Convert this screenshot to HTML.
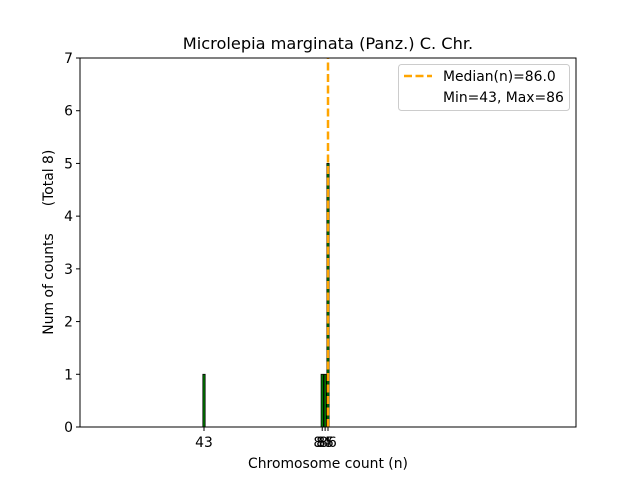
<!DOCTYPE html>
<html><head><meta charset="utf-8"><style>
body{margin:0;background:#fff;}
text{font-family:"DejaVu Sans","Liberation Sans",sans-serif;}
</style></head><body>
<svg id="chart" width="640" height="480" xmlns="http://www.w3.org/2000/svg">
<rect width="640" height="480" fill="#fff"/>
<text x="328" y="49" font-size="16.2" text-anchor="middle">Microlepia marginata (Panz.) C. Chr.</text>
<g id="bars"></g>
<g id="axes"></g>
<g>
<rect x="398.5" y="64.5" width="171" height="46" rx="3" fill="#fff" stroke="#ccc"/>
<line x1="404" y1="76" x2="432" y2="76" stroke="orange" stroke-width="2.5" stroke-dasharray="8,3.5"/>
<text x="443" y="81" font-size="13.9">Median(n)=86.0</text>
<text x="443" y="102" font-size="13.9">Min=43, Max=86</text>
</g>
<text x="328" y="468" font-size="13.9" text-anchor="middle">Chromosome count (n)</text>
<text transform="translate(53,284) rotate(-90)" font-size="13.9" text-anchor="middle">Num of counts</text>
<text transform="translate(53,178) rotate(-90)" font-size="13.9" text-anchor="middle">(Total 8)</text>
</svg>
<script>
const categories=[43,84,85,86];
const counts=[1,1,1,5];
const medianValue=86;
const yTicks=[0,1,2,3,4,5,6,7];
const xTicks=[43,84,85,86];
const NS="http://www.w3.org/2000/svg";
const L=80,R=576,T=58,B=427;
const xMin=0,xMax=172,yMax=7;
function xs(v){return L+(v-xMin)/(xMax-xMin)*(R-L);}
function ys(v){return B-v/yMax*(B-T);}
function mk(tag,attrs,parent){const e=document.createElementNS(NS,tag);for(const k in attrs)e.setAttribute(k,attrs[k]);parent.appendChild(e);return e;}
const bars=document.getElementById('bars');
const axes=document.getElementById('axes');
categories.forEach((c,i)=>{
  const w=0.8*(R-L)/(xMax-xMin);
  const r=mk('rect',{x:xs(c)-w/2,y:ys(counts[i]),width:w,height:B-ys(counts[i]),fill:'green',stroke:'#000','stroke-width':0.8},bars);
  
  
});
const med=mk('line',{x1:xs(medianValue),x2:xs(medianValue),y1:B,y2:T,stroke:'orange','stroke-width':2.5,'stroke-dasharray':'8,3.5'},bars);


const frame=mk('rect',{x:L,y:T,width:R-L,height:B-T,fill:'none',stroke:'#000','stroke-width':1},axes);


yTicks.forEach(t=>{
  const y=ys(t);
  mk('line',{x1:L-4,x2:L,y1:y,y2:y,stroke:'#000'},axes);
  const tx=mk('text',{x:L-7,y:y+5,'font-size':13.9,'text-anchor':'end'},axes);
  tx.textContent=t;
  
  
});
xTicks.forEach(t=>{
  const x=xs(t);
  mk('line',{x1:x,x2:x,y1:B,y2:B+4,stroke:'#000'},axes);
  const tx=mk('text',{x:x,y:B+20,'font-size':13.9,'text-anchor':'middle'},axes);
  tx.textContent=t;
  
  
});
</script>
</body></html>
